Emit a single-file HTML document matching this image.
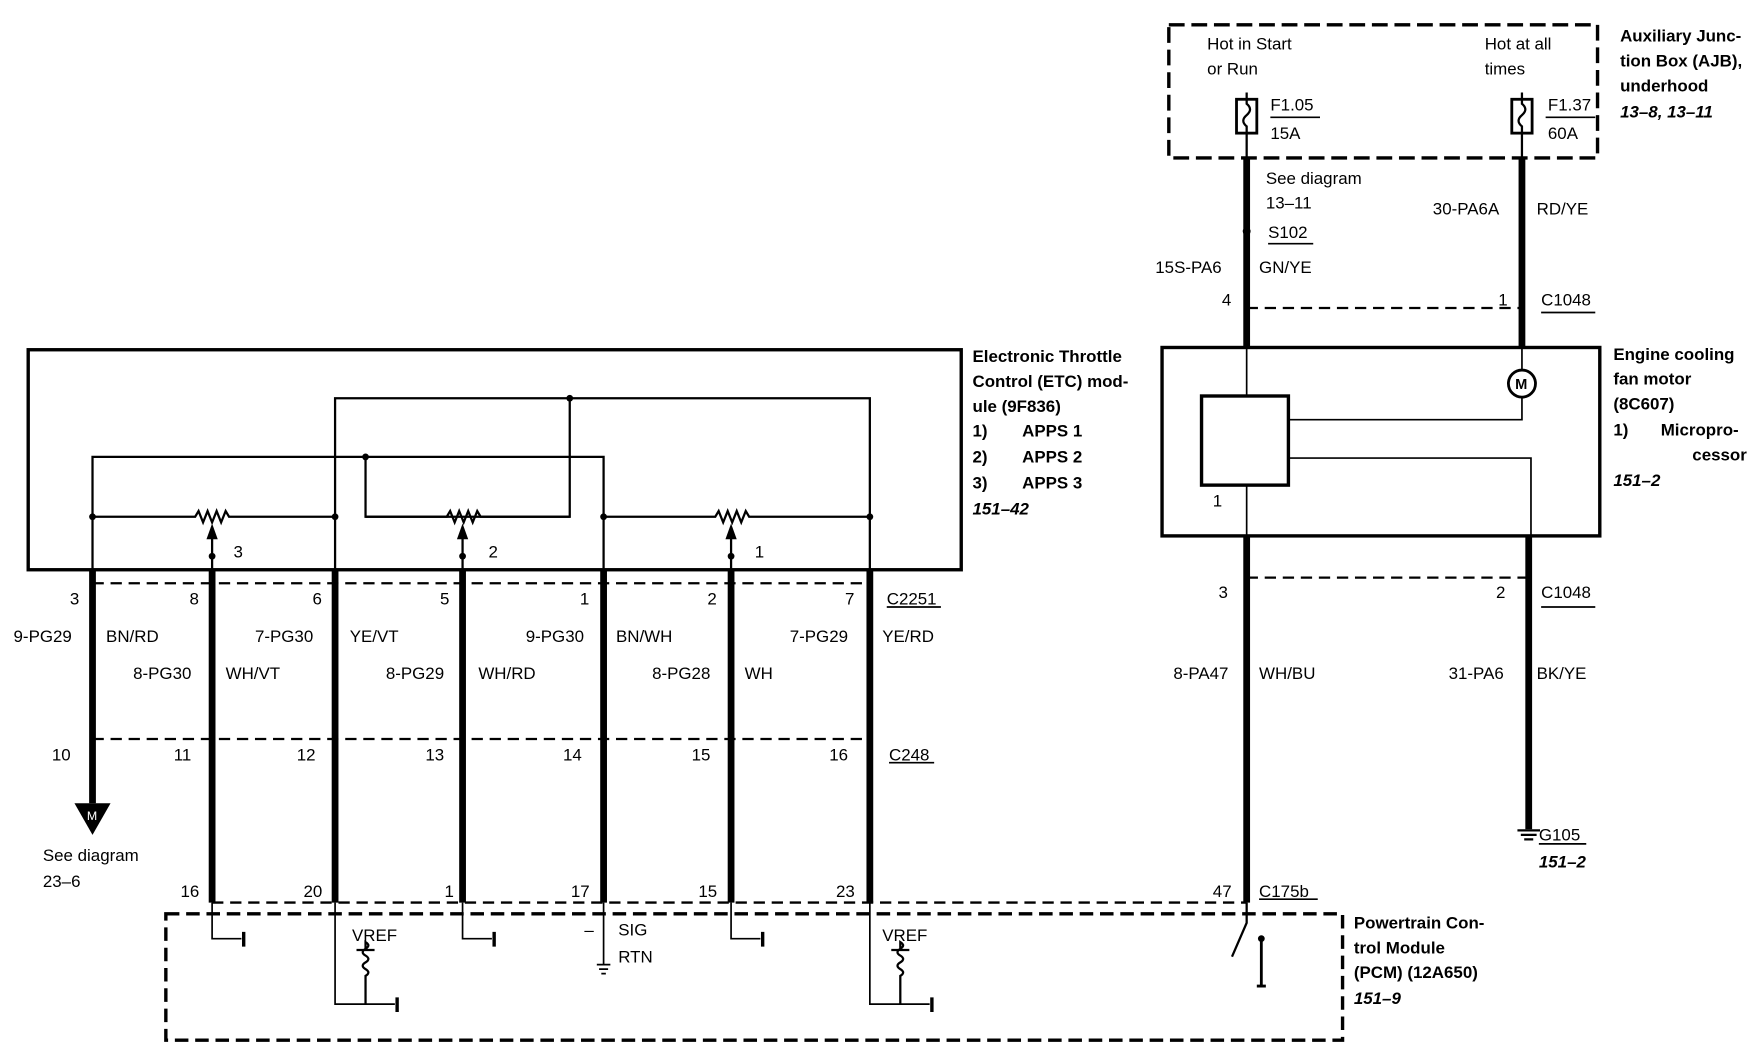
<!DOCTYPE html>
<html><head><style>
html,body{margin:0;padding:0;background:#fff;}
svg{display:block;}
text{font-family:"Liberation Sans",sans-serif;font-size:15px;fill:#000;}
.b{font-weight:bold;}
.i{font-weight:bold;font-style:italic;}
</style></head><body>
<svg width="1760" height="1056" viewBox="0 0 1560 936" xmlns="http://www.w3.org/2000/svg">
<rect width="1560" height="936" fill="#fff"/>
<g fill="none" stroke="#000">
<!-- AJB box -->
<rect x="1036" y="22" width="380" height="118" stroke-width="3" stroke-dasharray="14,6"/>
<!-- fuses -->
<rect x="1096" y="88" width="18" height="30" stroke-width="2.5"/>
<path d="M1105 82V92 q6 5 0 10 q-6 5 0 10 V140" stroke-width="2"/>
<rect x="1340" y="88" width="18" height="30" stroke-width="2.5"/>
<path d="M1349 82V92 q6 5 0 10 q-6 5 0 10 V140" stroke-width="2"/>
<line x1="1126" y1="104" x2="1170" y2="104" stroke-width="1.5"/>
<line x1="1370" y1="104" x2="1414" y2="104" stroke-width="1.5"/>
<!-- top thick wires -->
<path d="M1105 140V308" stroke-width="6" stroke-dasharray="none"/>
<path d="M1349 140V308" stroke-width="6"/>
<line x1="1105" y1="273" x2="1349" y2="273" stroke-width="2" stroke-dasharray="10,6"/>
<line x1="1124" y1="216" x2="1164" y2="216" stroke-width="1.5"/>
<line x1="1366" y1="277" x2="1414" y2="277" stroke-width="1.5"/>
<!-- fan box -->
<rect x="1030" y="308" width="388" height="167" stroke-width="3"/>
<line x1="1105" y1="308" x2="1105" y2="350" stroke-width="1.5"/>
<rect x="1065" y="351" width="77" height="79" stroke-width="3"/>
<line x1="1105" y1="430" x2="1105" y2="475" stroke-width="1.5"/>
<circle cx="1349" cy="340" r="12" stroke-width="2.5"/>
<path d="M1349 308V328 M1349 352V372H1142" stroke-width="1.5"/>
<path d="M1142 406H1357V475" stroke-width="1.5"/>
<!-- lower right wires -->
<path d="M1105 475V800" stroke-width="6"/>
<path d="M1355 475V735" stroke-width="6"/>
<line x1="1105" y1="512" x2="1355" y2="512" stroke-width="2" stroke-dasharray="10,6"/>
<line x1="1366" y1="538" x2="1414" y2="538" stroke-width="1.5"/>
<path d="M1345 736H1365M1348 740H1362M1351 744H1359" stroke-width="2"/>
<line x1="1364" y1="748" x2="1406" y2="748" stroke-width="1.5"/>
<!-- ETC box -->
<rect x="25" y="310" width="827" height="195" stroke-width="3"/>
<path d="M297 505V353H771V505" stroke-width="2"/>
<path d="M505 353V458H324V405" stroke-width="2"/>
<path d="M82 505V405H535V505" stroke-width="2"/>
<path d="M82 458H173 l3 -5 l4 10 l4 -10 l4 10 l4 -10 l4 10 l4 -10 l3 5 H297" stroke-width="2"/>
<path d="M324 458H396 l3 -5 l4 10 l4 -10 l4 10 l4 -10 l4 10 l4 -10 l3 5 H505" stroke-width="2"/>
<path d="M535 458H634 l3 -5 l4 10 l4 -10 l4 10 l4 -10 l4 10 l4 -10 l3 5 H771" stroke-width="2"/>
<path d="M188 505V468 M410 505V468 M648 505V468" stroke-width="2"/>
<!-- thick lower wires -->
<path d="M82 505V712 M188 505V800 M297 505V800 M410 505V800 M535 505V800 M648 505V800 M771 505V800" stroke-width="6"/>
<line x1="82" y1="517" x2="771" y2="517" stroke-width="2" stroke-dasharray="10,6"/>
<line x1="786" y1="538" x2="834" y2="538" stroke-width="1.5"/>
<line x1="82" y1="655" x2="771" y2="655" stroke-width="2" stroke-dasharray="10,6"/>
<line x1="788" y1="676" x2="828" y2="676" stroke-width="1.5"/>
<line x1="188" y1="800" x2="1105" y2="800" stroke-width="2" stroke-dasharray="10,6"/>
<line x1="1116" y1="797" x2="1168" y2="797" stroke-width="1.5"/>
<!-- PCM box -->
<rect x="147" y="810" width="1043" height="112" stroke-width="3" stroke-dasharray="12,6"/>
<path d="M188 800V832H214 M410 800V832H436 M648 800V832H674" stroke-width="1.5"/>
<path d="M216 826V839 M438 826V839 M676 826V839" stroke-width="3"/>
<path d="M297 800V890H350 M771 800V890H824" stroke-width="1.5"/>
<path d="M352 884V897 M826 884V897" stroke-width="3"/>
<path d="M324 890V865 q5 -3 0 -6 q-5 -3 0 -6 q5 -3 0 -6 q-5 -3 0 -6 q5 -3 0 -6 V842 M316 842H332" stroke-width="2"/>
<path d="M798 890V865 q5 -3 0 -6 q-5 -3 0 -6 q5 -3 0 -6 q-5 -3 0 -6 q5 -3 0 -6 V842 M790 842H806" stroke-width="2"/>
<path d="M535 800V855 M529 855H541 M531 859H539 M533 863H537" stroke-width="1.5"/>
<path d="M1105 800V818 L1092 848" stroke-width="2"/>
<path d="M1118 832V874 M1114 874H1122" stroke-width="2.5"/>
</g>
<!-- dots & arrows -->
<g fill="#000">
<circle cx="505" cy="353" r="3"/><circle cx="324" cy="405" r="3"/>
<circle cx="82" cy="458" r="3"/><circle cx="297" cy="458" r="3"/><circle cx="535" cy="458" r="3"/><circle cx="771" cy="458" r="3"/>
<circle cx="188" cy="493" r="3"/><circle cx="410" cy="493" r="3"/><circle cx="648" cy="493" r="3"/>
<path d="M183 478L188 464L193 478Z M405 478L410 464L415 478Z M643 478L648 464L653 478Z"/>
<circle cx="1105" cy="205" r="3.5"/>
<path d="M66 712H98L82 740Z"/>
<circle cx="1118" cy="832" r="3"/>
</g>
<text x="77" y="727" style="fill:#fff;font-size:11px">M</text>
<text x="1343" y="345" class="b" style="font-size:13px">M</text>
<!-- labels -->
<text x="1070" y="44">Hot in Start</text><text x="1070" y="66">or Run</text>
<text x="1316" y="44">Hot at all</text><text x="1316" y="66">times</text>
<text x="1126" y="98">F1.05</text><text x="1126" y="123">15A</text>
<text x="1372" y="98">F1.37</text><text x="1372" y="123">60A</text>
<text x="1122" y="163">See diagram</text><text x="1122" y="185">13–11</text>
<text x="1124" y="211">S102</text>
<text x="1024" y="242">15S-PA6</text><text x="1116" y="242">GN/YE</text>
<text x="1270" y="190">30-PA6A</text><text x="1362" y="190">RD/YE</text>
<text x="1083" y="271">4</text><text x="1328" y="271">1</text><text x="1366" y="271">C1048</text>
<text x="1436" y="37" class="b">Auxiliary Junc-</text><text x="1436" y="59" class="b">tion Box (AJB),</text>
<text x="1436" y="81" class="b">underhood</text><text x="1436" y="104" class="i">13–8, 13–11</text>
<text x="1430" y="319" class="b">Engine cooling</text><text x="1430" y="341" class="b">fan motor</text>
<text x="1430" y="363" class="b">(8C607)</text><text x="1430" y="386" class="b">1)</text><text x="1472" y="386" class="b">Micropro-</text>
<text x="1500" y="408" class="b">cessor</text><text x="1430" y="431" class="i">151–2</text>
<text x="1075" y="449">1</text>
<text x="1080" y="530">3</text><text x="1326" y="530">2</text><text x="1366" y="530">C1048</text>
<text x="1040" y="602">8-PA47</text><text x="1116" y="602">WH/BU</text>
<text x="1284" y="602">31-PA6</text><text x="1362" y="602">BK/YE</text>
<text x="1364" y="745">G105</text><text x="1364" y="769" class="i">151–2</text>
<text x="862" y="321" class="b">Electronic Throttle</text><text x="862" y="343" class="b">Control (ETC) mod-</text>
<text x="862" y="365" class="b">ule (9F836)</text>
<text x="862" y="387" class="b">1)</text><text x="906" y="387" class="b">APPS 1</text>
<text x="862" y="410" class="b">2)</text><text x="906" y="410" class="b">APPS 2</text>
<text x="862" y="433" class="b">3)</text><text x="906" y="433" class="b">APPS 3</text>
<text x="862" y="456" class="i">151–42</text>
<text x="207" y="494">3</text><text x="433" y="494">2</text><text x="669" y="494">1</text>
<text x="62" y="536">3</text><text x="168" y="536">8</text><text x="277" y="536">6</text><text x="390" y="536">5</text>
<text x="514" y="536">1</text><text x="627" y="536">2</text><text x="749" y="536">7</text><text x="786" y="536">C2251</text>
<text x="12" y="569">9-PG29</text><text x="94" y="569">BN/RD</text>
<text x="226" y="569">7-PG30</text><text x="310" y="569">YE/VT</text>
<text x="466" y="569">9-PG30</text><text x="546" y="569">BN/WH</text>
<text x="700" y="569">7-PG29</text><text x="782" y="569">YE/RD</text>
<text x="118" y="602">8-PG30</text><text x="200" y="602">WH/VT</text>
<text x="342" y="602">8-PG29</text><text x="424" y="602">WH/RD</text>
<text x="578" y="602">8-PG28</text><text x="660" y="602">WH</text>
<text x="46" y="674">10</text><text x="154" y="674">11</text><text x="263" y="674">12</text><text x="377" y="674">13</text>
<text x="499" y="674">14</text><text x="613" y="674">15</text><text x="735" y="674">16</text><text x="788" y="674">C248</text>
<text x="38" y="763">See diagram</text><text x="38" y="786">23–6</text>
<text x="160" y="795">16</text><text x="269" y="795">20</text><text x="394" y="795">1</text><text x="506" y="795">17</text>
<text x="619" y="795">15</text><text x="741" y="795">23</text><text x="1075" y="795">47</text><text x="1116" y="795">C175b</text>
<text x="312" y="834">VREF</text><text x="782" y="834">VREF</text>
<text x="518" y="829">–</text><text x="548" y="829">SIG</text><text x="548" y="853">RTN</text>
<text x="1200" y="823" class="b">Powertrain Con-</text><text x="1200" y="845" class="b">trol Module</text>
<text x="1200" y="867" class="b">(PCM) (12A650)</text><text x="1200" y="890" class="i">151–9</text>
</svg>
</body></html>
